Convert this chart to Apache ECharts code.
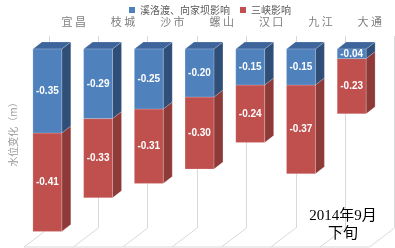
<!DOCTYPE html>
<html><head><meta charset="utf-8">
<script src="https://cdn.jsdelivr.net/npm/echarts@6/dist/echarts.min.js"></script>
<style>html,body{margin:0;padding:0;background:#fff}#c{width:395px;height:248px}</style>
</head><body><div id="c"></div>
<script>
const categories = ['宜昌','枝城','沙市','螺山','汉口','九江','大通'];
const xiluoduValues = [-0.35,-0.29,-0.25,-0.20,-0.15,-0.15,-0.04];
const sanxiaValues = [-0.41,-0.33,-0.31,-0.30,-0.24,-0.37,-0.23];
const seriesNames = ['溪洛渡、向家坝影响','三峡影响'];
const yAxisName = '水位变化（m）';
const periodText = ['2014年9月','下旬'];

const DX = 9, DY = -7;
const EDGE = 'rgba(255,255,255,0.3)';
function makeRender(front, top, side, withTop) {
  return function (params, api) {
    const i = api.value(0), v0 = api.value(1), v1 = api.value(2), val = api.value(3);
    const pTop = api.coord([i, v0]);
    const pBot = api.coord([i, v1]);
    const w = api.size([1, 0])[0] * 0.57;
    const x0 = pTop[0] - w / 2, x1 = pTop[0] + w / 2;
    const yT = pTop[1], yB = pBot[1];
    const children = [];
    children.push({type:'polygon', shape:{points:[[x1,yT],[x1+DX,yT+DY],[x1+DX,yB+DY],[x1,yB]]},
      style:{fill:side, stroke:EDGE, lineWidth:0.6}});
    if (withTop) children.push({type:'polygon', shape:{points:[[x0,yT],[x1,yT],[x1+DX,yT+DY],[x0+DX,yT+DY]]},
      style:{fill:top, stroke:EDGE, lineWidth:0.6}});
    children.push({type:'rect', shape:{x:x0, y:yT, width:w, height:yB-yT},
      style:{fill:front, stroke:EDGE, lineWidth:0.6}});
    children.push({type:'text', style:{text:val.toFixed(2), x:(x0+x1)/2, y:(yT+yB)/2,
      align:'center', verticalAlign:'middle', textAlign:'center', textVerticalAlign:'middle',
      fill:'#ffffff', font:'bold 10px "Liberation Sans Narrow", "Liberation Sans", sans-serif'}});
    return {type:'group', children};
  };
}

function floorRender(params, api) {
  const i = api.value(0);
  const c = api.coord([i, 0]);
  const cw = api.size([1, 0])[0];
  const xb = c[0] - cw / 2, yb = c[1];
  const FX = -25, FY = 19;
  const st = {stroke:'#d9d9d9', lineWidth:1};
  const children = [
    {type:'line', shape:{x1:xb, y1:yb, x2:xb+FX, y2:yb+FY}, style:st},
    {type:'line', shape:{x1:xb+FX, y1:yb+FY, x2:xb+cw+FX, y2:yb+FY}, style:st}
  ];
  if (i === categories.length - 1) {
    children.push({type:'line', shape:{x1:xb+cw, y1:yb, x2:xb+cw+FX, y2:yb+FY}, style:st});
  }
  return {type:'group', children};
}

const blueData = categories.map((c, i) => [i, 0, xiluoduValues[i], xiluoduValues[i]]);
const redData = categories.map((c, i) => [i, xiluoduValues[i], xiluoduValues[i] + sanxiaValues[i], sanxiaValues[i]]);

const chart = echarts.init(document.getElementById('c'), null, {renderer:'canvas'});
chart.setOption({
  animation: false,
  color: ['#4f81bd', '#c0504d'],
  legend: {
    data: seriesNames, left: 124, top: 0, itemWidth: 6, itemHeight: 6, itemGap: 10, icon: 'rect',
    textStyle: {fontSize: 10, color: '#595959', fontFamily: '"Noto Sans CJK SC", sans-serif'}
  },
  grid: [
    {left: 22, right: 18, top: 49, bottom: 7},
    {left: 39.5, right: 0.5, top: 36, bottom: 20}
  ],
  xAxis: [
    {type:'category', gridIndex:0, data:categories, show:false},
    {type:'category', gridIndex:1, data:categories, position:'top',
      axisLine:{show:false}, axisTick:{show:false},
      axisLabel:{margin:9, fontSize:11, color:'#7f7f7f', fontFamily:'"Noto Sans CJK SC", sans-serif',
        formatter: v => v.split('').join(' ')},
      splitLine:{show:true, lineStyle:{color:'#d9d9d9', width:1}}}
  ],
  yAxis: [
    {type:'value', gridIndex:0, min:-0.8, max:0, show:false},
    {type:'value', gridIndex:1, min:0, max:1, name:yAxisName, nameLocation:'middle', nameRotate:90, nameGap:31,
      nameTextStyle:{fontSize:10, color:'#999999', fontFamily:'"Noto Sans CJK SC", sans-serif'},
      axisLine:{show:false}, axisTick:{show:false}, axisLabel:{show:false}, splitLine:{show:false}}
  ],
  graphic: [{
    type:'text', x:343, y:207, z:10,
    style:{text: periodText.join('\n'), align:'center', textAlign:'center', verticalAlign:'top',
      font:'15px "Liberation Serif", "Noto Sans CJK SC", serif', lineHeight:18, fill:'#000'}
  }],
  series: [
    {type:'custom', name:seriesNames[0], xAxisIndex:0, yAxisIndex:0, z:4,
      itemStyle:{color:'#4f81bd'}, encode:{x:0, y:[1,2]},
      renderItem: makeRender('#4f81bd', '#3d659b', '#2f4e78', true), data: blueData},
    {type:'custom', name:seriesNames[1], xAxisIndex:0, yAxisIndex:0, z:3,
      itemStyle:{color:'#c0504d'}, encode:{x:0, y:[1,2]},
      renderItem: makeRender('#c0504d', '#a84542', '#8e3a38', false), data: redData},
    {type:'custom', name:'floor', xAxisIndex:1, yAxisIndex:1, z:1, silent:true,
      encode:{x:0, y:1}, renderItem: floorRender, data: categories.map((c, i) => [i, 0])}
  ]
});
</script>
</body></html>
